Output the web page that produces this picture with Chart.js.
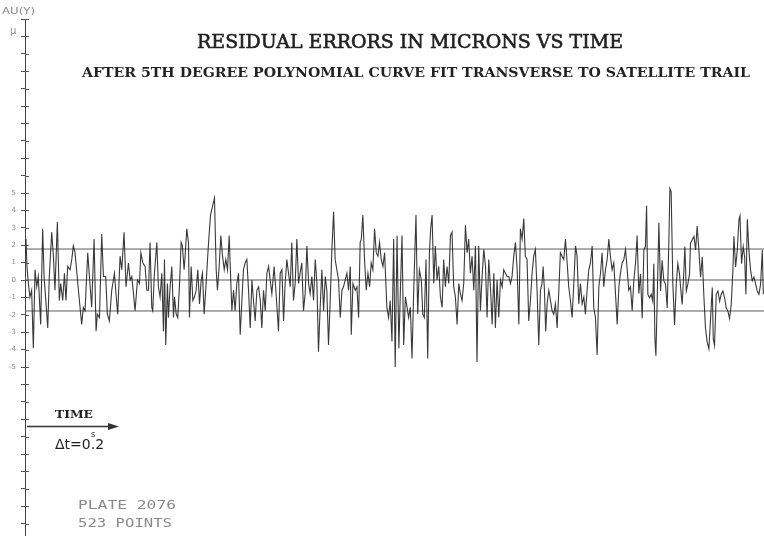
<!DOCTYPE html>
<html><head><meta charset="utf-8">
<script src="https://cdn.jsdelivr.net/npm/chart.js@4"></script>
<style>html,body{margin:0;padding:0;background:#fff}#wrap{width:764px;height:545px;position:relative}canvas{display:block}</style>
</head><body><div id="wrap"><canvas id="c" width="764" height="545"></canvas></div>
<script>
// sample number (Δt = 0.2 s)
const sampleNo = [
1.0,1.7,2.4,3.4,4.5,5.7,6.9,8.1,9.3,10.4,12.1,13.5,14.5,15.9,17.1,18.2,19.9,21.1,22.2,23.9,25.3,26.3,27.7,28.9,30.0,31.2,32.9,34.1,35.2,36.4,38.8,41.1,42.3,43.5,45.4,46.6,48.2,49.9,51.3,52.2,53.7,55.3,56.5,58.1,59.3,60.7,62.4,64.3,65.2,66.6,68.3,69.5,71.1,72.5,74.2,75.4,76.6,78.9,80.6,82.0,83.0,84.4,
86.0,87.2,88.4,89.5,90.7,91.4,92.6,94.3,95.4,96.6,97.8,99.0,99.7,100.6,101.8,102.5,103.7,104.9,106.1,106.8,108.0,109.1,110.3,111.5,112.4,113.6,114.3,115.5,116.7,117.4,118.6,119.8,120.9,122.1,123.3,124.5,125.7,126.6,127.8,129.2,130.9,132.3,133.9,135.1,136.3,137.2,138.4,139.6,140.8,142.0,143.1,144.3,145.5,146.7,147.4,148.6,149.7,150.9,152.1,153.3,154.5,155.6,156.8,158.0,159.2,160.4,161.6,162.7,163.9,165.1,166.3,167.5,168.6,169.8,171.0,172.2,173.4,
174.5,175.7,177.3,178.7,180.4,181.6,182.8,184.0,185.1,186.3,187.5,188.7,189.8,191.0,192.2,193.4,194.6,195.7,196.9,198.1,199.3,200.5,201.7,202.8,204.0,205.2,206.4,207.6,208.7,209.9,211.1,212.3,213.5,214.6,215.8,217.0,218.2,219.4,220.5,221.7,222.9,224.1,225.3,226.4,227.6,228.8,230.0,231.2,231.9,233.1,234.7,235.9,237.1,238.2,239.0,240.1,241.3,242.5,243.7,244.9,246.0,247.2,248.4,249.6,250.8,251.9,253.1,254.3,255.5,257.1,258.3,259.5,260.7,261.9,263.0,264.3,265.6,266.6,
267.8,269.0,270.2,271.4,272.5,273.7,274.9,276.1,277.7,278.9,280.1,281.5,282.5,283.6,284.8,286.0,287.2,288.1,289.1,290.3,291.4,292.6,293.8,295.0,296.2,297.3,298.5,299.7,300.9,302.1,303.2,304.4,305.6,306.8,308.0,309.1,310.3,311.5,312.7,313.9,315.0,316.2,317.4,318.6,319.8,320.9,322.1,323.3,324.5,325.7,326.9,328.0,329.2,330.4,331.6,332.8,333.9,335.1,336.3,337.5,338.7,339.8,341.0,342.2,343.4,344.6,345.7,346.9,348.1,349.3,350.5,
351.6,352.8,354.0,355.1,356.3,357.5,358.7,359.9,361.0,362.2,363.4,364.6,365.8,366.9,367.7,368.6,369.5,370.5,371.7,372.9,374.0,375.2,376.4,377.6,378.8,379.9,381.1,382.3,383.5,384.7,385.8,387.0,388.2,389.4,390.6,391.7,392.9,394.1,395.3,396.5,397.6,398.8,400.0,401.2,402.4,403.5,404.7,405.9,407.1,408.3,409.4,410.6,411.8,413.0,414.2,415.3,416.5,417.7,418.9,420.1,421.3,422.4,423.6,424.8,426.0,427.2,428.3,429.5,430.7,431.9,433.1,434.2,435.4,
436.6,437.8,439.0,440.1,440.9,441.8,443.0,444.2,445.3,446.0,446.8,447.5,448.4,449.6,450.8,451.9,453.1,454.3,455.5,456.7,457.4,458.3,459.5,460.7,461.9,463.0,464.2,465.4,466.1,467.3,468.0,469.0,470.1,471.3,472.0,473.2,474.4,475.6,476.7,477.9,479.1,480.3,481.5,482.6,483.8,485.0,486.2,487.4,488.1,489.0,490.2,491.4,492.6,493.7,494.9,496.1,497.3,498.5,499.6,500.8,502.0,502.7,503.9,505.1,506.3,507.0,508.1,509.3,510.3,511.2,512.2,513.3,514.5,515.7,516.9,518.1,519.2,520.4,521.6,522.8,523.5
];
// residual in microns
const residual = [
1.57,2.35,0.78,-0.2,-0.98,-0.59,-3.92,0.59,-0.39,0.2,-2.55,2.94,0.2,-1.37,-2.75,0.2,2.75,1.37,-0.59,3.33,-1.18,-0.2,-1.18,0.39,-1.18,0.78,0.59,1.18,1.96,1.57,-0.59,-2.55,-1.57,-1.76,1.57,0.2,-1.57,2.35,-2.94,-1.96,-2.16,2.65,0.2,0.2,-1.96,-2.35,-0.59,0.39,-0.59,-1.96,1.37,0.59,2.75,-0.39,0.98,0,0.2,-1.76,0,-0.2,1.57,0.98,
0.78,-0.59,-0.59,2.16,-1.57,-1.76,0.39,2.16,-0.39,-0.98,0.39,-2.94,1.18,-3.73,-0.2,-2.16,-0.39,0.78,-2.16,-0.98,-1.96,-2.16,-0.39,2.16,1.96,0.59,1.37,2.94,2.16,-2.16,0.78,-1.18,-0.98,-0.59,0.59,-1.37,0,0.39,-1.96,-0.2,2.16,3.73,4.31,4.71,0.59,-0.59,0.78,2.55,1.37,0.59,1.18,0.59,2.55,-0.2,-1.76,-0.59,-1.76,-0.2,0.39,-3.14,-1.18,0.59,0.98,1.18,-0.59,-2.75,0,-1.18,-2.35,-0.59,-0.39,-1.18,-2.75,-0.59,-1.76,0.39,0.78,
0,-0.78,0.78,-0.78,-2.94,0.39,0.59,-2.35,-0.2,1.18,0.39,-0.39,2.16,-1.18,-0.2,2.35,-0.2,0.39,0.98,-1.76,-0.78,1.96,-0.2,-0.78,0.2,-1.18,1.18,-0.2,-4.12,-1.57,0.59,-1.76,0.2,-0.59,-3.73,-1.18,1.76,3.92,1.18,0.59,0,-2.16,-0.59,-0.39,0,0.39,-0.59,0.78,-3.14,-0.2,-0.59,-0.39,-2.16,2.16,2.35,3.73,1.18,-0.59,0.39,-0.39,0.98,0.59,2.94,1.57,1.37,2.16,1.18,0.78,1.57,-1.57,-2.16,-1.18,-3.53,2.35,-5.0,2.55,-3.92,-0.8,
2.55,-3.73,-0.98,-1.57,-2.16,-1.57,-4.51,-0.59,3.73,-1.96,0.59,0,-1.96,-2.16,1.18,-4.51,1.57,2.94,3.73,-0.2,1.96,0,0.78,-0.98,-1.57,1.18,-0.39,0.78,-0.2,2.55,2.75,-0.39,-0.98,-2.55,-0.2,-0.78,-1.18,-0.2,3.14,1.57,2.35,0.39,1.37,-0.59,1.96,-4.71,1.96,-1.76,0.2,1.76,0.78,-2.16,1.18,-0.39,-2.55,0.39,-2.75,0,-2.16,0,-0.39,0.59,0.39,0.2,0.2,-0.2,0.2,1.37,2.16,0.59,-2.55,
2.94,2.35,3.53,1.37,1.18,-2.35,-1.18,0.39,1.37,1.76,-0.59,-3.73,-0.59,-0.2,0.78,-0.59,-2.94,-1.37,-0.59,-1.18,-1.76,-1.96,-1.37,-2.75,-0.59,1.57,1.37,1.18,2.35,0.98,-0.39,-1.18,-2.16,-0.2,1.96,1.37,-1.37,-0.2,-1.37,-0.98,-1.96,-0.59,0.59,0.98,1.96,-1.57,-2.16,-4.31,-0.39,0.39,1.57,-0.39,0.59,1.18,2.35,1.37,0.59,0.98,-0.78,-2.55,-0.39,0.39,0.98,1.18,1.76,0.59,-0.59,-0.39,-1.76,0,0.98,2.55,-0.78,
0.35,-2.2,1.73,1.92,4.27,-0.82,-1.02,-0.82,-1.22,0.94,-3.37,-4.35,-1.22,3.29,-0.63,1.14,-0.04,-0.24,-1.61,2.31,5.25,5.06,-0.24,-2.59,-0.24,0.94,0.35,-0.82,-1.41,0.55,1.92,-0.63,-0.24,0.35,2.12,2.31,2.51,1.73,3.1,1.73,0.16,1.33,-1.02,-2.78,-3.57,-3.96,-2.2,-0.43,-3.37,-3.76,-0.82,-0.63,-1.22,-0.82,-0.63,-1.02,-1.61,-1.8,-2.2,-1.41,0.55,2.51,0.75,1.73,3.49,3.69,0.94,1.92,1.33,-0.82,3.49,1.73,0.55,-0.04,0.16,-0.24,-0.63,-0.82,-0.24,1.73,-0.82
];
// horizontal reference levels (+σ, mean, −σ), microns
const refLevels = [1.78, 0, -1.78];
// labelled y ticks
const yTickLabels = [5,4,3,2,1,0,-1,-2,-3,-4,-5];
const titleText = 'RESIDUAL ERRORS IN MICRONS VS TIME';
const subtitleText = 'AFTER 5TH DEGREE POLYNOMIAL CURVE FIT TRANSVERSE TO SATELLITE TRAIL';
const noteLines = ['PLATE 2076', '523 POINTS'];

const N = Math.min(sampleNo.length, residual.length);
const tracePts = [];
for (let i = 0; i < N; i++) tracePts.push({x: sampleNo[i], y: residual[i]});
const X_MIN = 1, X_MAX = 524;

const refSets = refLevels.map(l => ({
  data: [{x: X_MIN, y: l}, {x: X_MAX, y: l}],
  borderColor: '#5a5a5a', borderWidth: 1, pointRadius: 0, fill: false
}));

function fitText(ctx, text, x, y, w, strokeW) {
  const m = ctx.measureText(text).width;
  const s = w / m;
  ctx.save();
  ctx.translate(x, y);
  ctx.scale(s, 1);
  ctx.textAlign = 'left';
  ctx.fillText(text, 0, 0);
  if (strokeW) { ctx.lineWidth = strokeW; ctx.strokeStyle = ctx.fillStyle; ctx.strokeText(text, 0, 0); }
  ctx.restore();
}

const decor = {
  id: 'decor',
  afterDraw(chart) {
    const ctx = chart.ctx;
    const ys = chart.scales.y;
    const ax = chart.chartArea.left;
    ctx.save();
    // right half of tick crosses
    ctx.strokeStyle = '#555'; ctx.lineWidth = 1;
    ys.ticks.forEach((t, i) => {
      const py = Math.round(ys.getPixelForTick(i)) + 0.5;
      ctx.beginPath(); ctx.moveTo(ax, py); ctx.lineTo(ax + 4, py); ctx.stroke();
    });
    // axis labels at top
    ctx.fillStyle = '#888';
    ctx.font = '9px "DejaVu Sans"';
    ctx.textBaseline = 'alphabetic';
    fitText(ctx, 'AU(Y)', 2, 14, 33);
    ctx.font = '10px "DejaVu Sans"';
    ctx.fillText('\u03BC', 10, 34);
    // titles
    ctx.fillStyle = '#222';
    ctx.font = '19px "DejaVu Serif"';
    fitText(ctx, titleText, 197, 48, 426, 0.6);
    ctx.font = 'bold 13px "DejaVu Serif"';
    fitText(ctx, subtitleText, 82, 77, 668);
    // TIME arrow
    ctx.font = 'bold 11px "DejaVu Serif"';
    fitText(ctx, 'TIME', 55, 418, 38);
    ctx.strokeStyle = '#333'; ctx.lineWidth = 1.5;
    ctx.beginPath(); ctx.moveTo(27, 426.5); ctx.lineTo(112, 426.5); ctx.stroke();
    ctx.fillStyle = '#333';
    ctx.beginPath(); ctx.moveTo(119, 426.5); ctx.lineTo(108, 423); ctx.lineTo(108, 430); ctx.closePath(); ctx.fill();
    // Δt = 0.2 s
    ctx.fillStyle = '#222';
    ctx.font = '14px "DejaVu Sans"';
    const a = '\u0394t=0';
    let x = 55;
    ctx.fillText(a, x, 449); x += ctx.measureText(a).width;
    const dotW = ctx.measureText('.').width;
    ctx.fillText('.', x, 449);
    ctx.font = '8px "DejaVu Sans"';
    ctx.fillText('s', x + dotW / 2 - 2, 437);
    ctx.font = '14px "DejaVu Sans"';
    ctx.fillText('2', x + dotW, 449);
    // plate notes
    ctx.fillStyle = '#8a8a8a';
    ctx.font = '13px "DejaVu Sans Mono"';
    fitText(ctx, noteLines[0], 78, 509, 98);
    fitText(ctx, noteLines[1], 78, 527, 94);
    ctx.restore();
  }
};

new Chart(document.getElementById('c'), {
  type: 'line',
  data: {
    datasets: [{
      data: tracePts, borderColor: 'rgba(35,35,35,0.9)', borderWidth: 1.1,
      pointRadius: 0, tension: 0, fill: false
    }].concat(refSets)
  },
  options: {
    responsive: false, animation: false, devicePixelRatio: 1,
    layout: {padding: {top: 19, bottom: 9.2, left: 0, right: 0}},
    plugins: {legend: {display: false}, tooltip: {enabled: false}, title: {display: false}},
    scales: {
      x: {type: 'linear', min: X_MIN, max: X_MAX, display: false},
      y: {
        type: 'linear', min: -14.7, max: 15,
        afterFit(s) { s.width = 25; },
        afterBuildTicks(s) {
          const t = [];
          for (let v = -14; v <= 15; v++) t.push({value: v});
          s.ticks = t;
        },
        ticks: {
          autoSkip: false,
          callback: v => (yTickLabels.includes(v) ? String(v) : ''),
          font: {family: 'DejaVu Sans', size: 7}, color: '#888', padding: 5
        },
        grid: {drawOnChartArea: false, tickLength: 4, color: '#555'},
        border: {display: true, color: '#444', width: 1}
      }
    }
  },
  plugins: [decor]
});
</script>
</body></html>
